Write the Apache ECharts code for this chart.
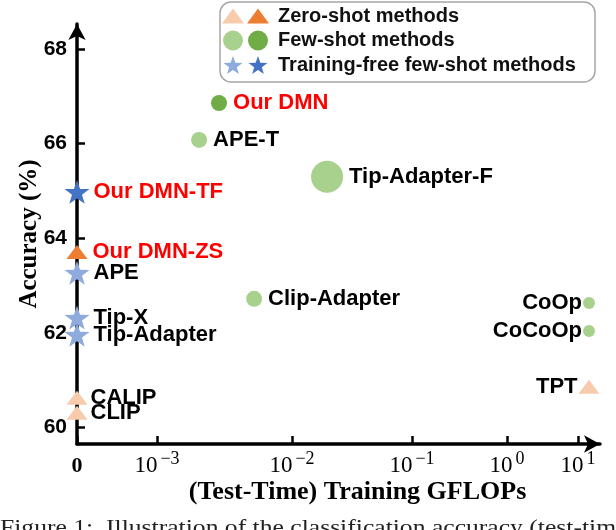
<!DOCTYPE html>
<html><head><meta charset="utf-8">
<script src="https://cdn.jsdelivr.net/npm/echarts@6/dist/echarts.min.js"></script>
<style>html,body{margin:0;padding:0;background:#fff}#c{width:616px;height:530px}</style>
</head><body><div id="c"></div>
<script>
// ---- axis ticks ----
const xTickValues = [0, 1e-3, 1e-2, 1e-1, 1, 10];      // GFLOPs at each tick
const xTickExponents = [null, -3, -2, -1, 0, 1];       // tick labels: 0, 10^e
const xTickSlots = [0, 0.80, 2.15, 3.35, 4.30, 5.01];   // hand-drawn (non-uniform) decade placement
const yTickValues = [60, 62, 64, 66, 68];

// ---- data ----
const zeroShotLightNames = ['CLIP', 'CALIP', 'TPT'];
const zeroShotLightGflops = [0, 0, 14.3];
const zeroShotLightAcc = [60.31, 60.63, 60.86];

const zeroShotDarkNames = ['Our DMN-ZS'];
const zeroShotDarkGflops = [0];
const zeroShotDarkAcc = [63.71];

const fewShotLightNames = ['APE-T', 'Tip-Adapter-F', 'Clip-Adapter', 'CoOp', 'CoCoOp'];
const fewShotLightGflops = [2.05e-3, 1.96e-2, 5.24e-3, 14.3, 14.3];
const fewShotLightAcc = [66.08, 65.30, 62.72, 62.63, 62.04];

const fewShotDarkNames = ['Our DMN'];
const fewShotDarkGflops = [2.88e-3];
const fewShotDarkAcc = [66.86];

const tfLightNames = ['APE', 'Tip-X', 'Tip-Adapter'];
const tfLightGflops = [0, 0, 0];
const tfLightAcc = [63.27, 62.32, 61.96];

const tfDarkNames = ['Our DMN-TF'];
const tfDarkGflops = [0];
const tfDarkAcc = [64.98];

const captionText = 'Figure 1:  Illustration of the classification accuracy (test-time';

// ---- styles ----
const fewShotLightSizes = [16, 32, 16, 12, 12];
const fewShotDarkSizes = [16];
const leftLabeled = ['CoOp', 'CoCoOp', 'TPT'];

const STAR = 'path://M50 0 L61.76 33.82 L97.55 34.55 L69.02 56.18 L79.39 90.45 L50 70 L20.61 90.45 L30.98 56.18 L2.45 34.55 L38.24 33.82 Z';
const STAR_ICON = 'path://M0 0 M22 20 M11 1 L13.35 7.76 L20.51 7.91 L14.8 12.24 L16.88 19.09 L11 15 L5.12 19.09 L7.2 12.24 L1.49 7.91 L8.65 7.76 Z';
const TRI_ICON = 'path://M0 0 M22 20 M11 2.5 L22 17.5 L0 17.5 Z';

const C = {
  zsL: '#F8CBAD', zsD: '#ED7D31',
  fsL: '#A9D18E', fsD: '#70AD47',
  tfL: '#8FAADC', tfD: '#4472C4'
};

function log10(v) { return Math.log(v) / Math.LN10; }
function toSlot(v) {
  const n = xTickValues.length;
  if (v <= 0) return 0;
  if (v < xTickValues[1]) return xTickSlots[1] * v / xTickValues[1];
  for (let i = 1; i < n - 1; i++) {
    if (v <= xTickValues[i + 1]) {
      const f = (log10(v) - log10(xTickValues[i])) / (log10(xTickValues[i + 1]) - log10(xTickValues[i]));
      return xTickSlots[i] + f * (xTickSlots[i + 1] - xTickSlots[i]);
    }
  }
  const f = (log10(v) - log10(xTickValues[n - 1])) / (log10(xTickValues[n - 1]) - log10(xTickValues[n - 2]));
  return xTickSlots[n - 1] + f * (xTickSlots[n - 1] - xTickSlots[n - 2]);
}

const LABEL_FONT = { fontFamily: 'Liberation Sans, Arial, sans-serif', fontWeight: 'bold', fontSize: 22 };

function makeSeries(seriesName, names, xs, ys, symbol, sizeOf, color, labelColor, distance) {
  return {
    type: 'scatter',
    name: seriesName,
    clip: false,
    symbol: symbol,
    symbolKeepAspect: true,
    itemStyle: { color: color, opacity: 1 },
    label: Object.assign({ show: true, position: 'right', distance: distance, color: labelColor,
      formatter: p => p.name }, LABEL_FONT),
    emphasis: { disabled: true },
    z: 5,
    data: names.map((nm, i) => {
      const item = { name: nm, value: [toSlot(xs[i]), ys[i]], symbolSize: sizeOf(i) };
      if (leftLabeled.indexOf(nm) >= 0) item.label = { position: 'left', distance: 1 };
      return item;
    })
  };
}

const triSize = () => [21, 14];
const starSize = () => [25, 25];

const series = [
  makeSeries('zs-light', zeroShotLightNames, zeroShotLightGflops, zeroShotLightAcc, 'triangle', triSize, C.zsL, '#000', 3),
  makeSeries('Zero-shot methods', zeroShotDarkNames, zeroShotDarkGflops, zeroShotDarkAcc, 'triangle', triSize, C.zsD, '#FF0000', 5),
  makeSeries('fs-light', fewShotLightNames, fewShotLightGflops, fewShotLightAcc, 'circle', i => fewShotLightSizes[i], C.fsL, '#000', 6),
  makeSeries('Few-shot methods', fewShotDarkNames, fewShotDarkGflops, fewShotDarkAcc, 'circle', i => fewShotDarkSizes[i], C.fsD, '#FF0000', 6),
  makeSeries('tf-light', tfLightNames, tfLightGflops, tfLightAcc, STAR, starSize, C.tfL, '#000', 4),
  makeSeries('Training-free few-shot methods', tfDarkNames, tfDarkGflops, tfDarkAcc, STAR, starSize, C.tfD, '#FF0000', 4)
];

const legendText = { fontFamily: 'Liberation Sans, Arial, sans-serif', fontWeight: 'bold', fontSize: 20, lineHeight: 20, color: '#111' };

const option = {
  animation: false,
  backgroundColor: '#fff',
  grid: { left: 77, right: 16, top: 24, bottom: 86, containLabel: false },
  xAxis: {
    type: 'value', min: 0, max: 5.23,
    name: '(Test-Time) Training GFLOPs', nameLocation: 'middle', nameGap: 35, nameMoveOverlap: false,
    nameTextStyle: { fontFamily: 'Liberation Serif, Times New Roman, serif', fontWeight: 'bold', fontSize: 26, color: '#000', padding: [0, 0, 0, 38] },
    axisLine: { show: true, lineStyle: { color: '#000', width: 3.5 }, symbol: ['none', 'arrow'], symbolSize: [13, 16] },
    axisTick: { show: true, inside: true, length: 8, lineStyle: { color: '#000', width: 2.5 }, customValues: xTickSlots },
    axisLabel: {
      customValues: xTickSlots, margin: 6, color: '#000',
      formatter: function (val) {
        let idx = 0, best = 1e9;
        xTickSlots.forEach((s, i) => { if (Math.abs(s - val) < best) { best = Math.abs(s - val); idx = i; } });
        const e = xTickExponents[idx];
        if (e === null) return '{z|0}';
        return '{b|10}{s|' + (e < 0 ? '\u2212' + (-e) : e) + '}';
      },
      rich: {
        z: { fontFamily: 'Liberation Serif, serif', fontWeight: 'bold', fontSize: 22, lineHeight: 27, verticalAlign: 'bottom', color: '#000' },
        b: { fontFamily: 'Liberation Serif, serif', fontSize: 23, lineHeight: 27, verticalAlign: 'bottom', color: '#000' },
        s: { fontFamily: 'Liberation Serif, serif', fontSize: 18, lineHeight: 15, verticalAlign: 'top', color: '#000', padding: [0, 0, 0, 3] }
      }
    },
    splitLine: { show: false }
  },
  yAxis: {
    type: 'value', min: 59.65, max: 68.53,
    name: 'Accuracy (%)', nameLocation: 'middle', nameGap: 35, nameMoveOverlap: false,
    nameTextStyle: { fontFamily: 'Liberation Serif, Times New Roman, serif', fontWeight: 'bold', fontSize: 25, color: '#000' },
    axisLine: { show: true, lineStyle: { color: '#000', width: 3.5 }, symbol: ['none', 'arrow'], symbolSize: [13, 16] },
    axisTick: { show: true, inside: true, length: 8, lineStyle: { color: '#000', width: 2.5 }, customValues: yTickValues },
    axisLabel: { customValues: yTickValues, margin: 10, color: '#000', fontFamily: 'Liberation Sans, Arial, sans-serif', fontWeight: 'bold', fontSize: 21 },
    splitLine: { show: false }
  },
  legend: [
    {
      orient: 'vertical', left: 222, top: 6, padding: 0, itemWidth: 22, itemHeight: 20, itemGap: 4.5,
      selectedMode: false, textStyle: legendText, formatter: () => '',
      data: [{ name: 'zs-light', icon: TRI_ICON }, { name: 'fs-light', icon: 'circle' }, { name: 'tf-light', icon: STAR_ICON }]
    },
    {
      orient: 'vertical', left: 247, top: 6, padding: 0, itemWidth: 22, itemHeight: 20, itemGap: 4.5,
      selectedMode: false, textStyle: Object.assign({ padding: [0, 0, 0, 4] }, legendText),
      data: [{ name: 'Zero-shot methods', icon: TRI_ICON }, { name: 'Few-shot methods', icon: 'circle' }, { name: 'Training-free few-shot methods', icon: STAR_ICON }]
    }
  ],
  graphic: [
    { type: 'rect', z: -1, shape: { x: 220, y: 2, width: 375, height: 80, r: 11 }, style: { fill: '#fff', stroke: '#A6A6A6', lineWidth: 1.5 } },
    { type: 'text', x: 0, y: 518, scaleX: 1.22, style: { text: captionText, font: '21px "Liberation Serif", serif', fill: '#222', textVerticalAlign: 'top' } }
  ],
  series: series
};

const chart = echarts.init(document.getElementById('c'), null, { renderer: 'canvas' });
chart.setOption(option);
</script>
</body></html>
